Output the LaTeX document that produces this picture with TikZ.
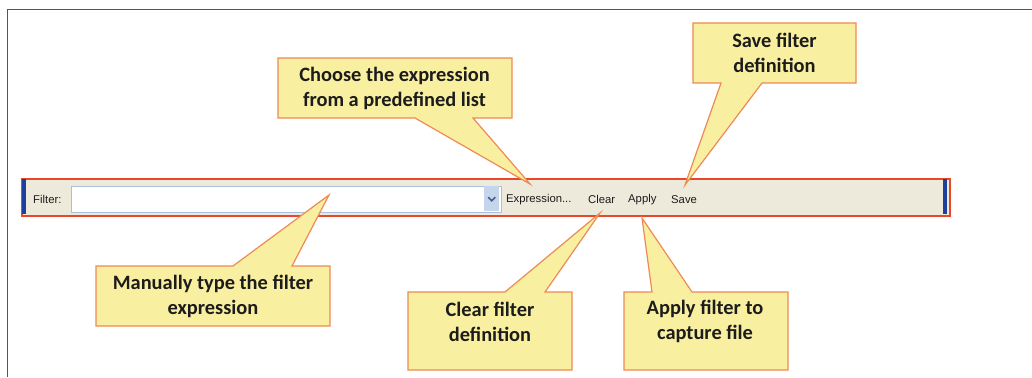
\documentclass[tikz,border=0pt]{standalone}
\usepackage{fontspec}
\setmainfont{Carlito}
\newfontfamily\uifont{Liberation Sans}
\definecolor{calloutfill}{HTML}{F9EFA0}
\definecolor{calloutedge}{HTML}{EE8A55}
\definecolor{barfill}{HTML}{EEEADB}
\definecolor{barred}{HTML}{E8472A}
\definecolor{barblue}{HTML}{1F3F9C}
\definecolor{fieldedge}{HTML}{A9BFDD}
\definecolor{comboblue}{HTML}{C5D5EC}
\definecolor{arrowblue}{HTML}{4A5F85}
\definecolor{framegray}{HTML}{555555}
\definecolor{inktext}{HTML}{1C1C1C}
\tikzset{
  calloutshape/.style={draw=calloutedge,fill=calloutfill,line width=1.2pt,line join=miter},
  callouttext/.style={align=center,font=\fontsize{20.4}{25}\selectfont\bfseries,text=inktext,inner sep=0pt},
  uilabel/.style={font=\uifont\fontsize{11.3}{12}\selectfont,text=inktext,inner sep=0pt,anchor=west},
  framerule/.style={draw=framegray,line width=1pt}
}
\begin{document}
\begin{tikzpicture}[x=1pt,y=-1pt]
\useasboundingbox (0,0) rectangle (1032,377);
\fill[white] (0,0) rectangle (1032,377);
% page frame
\coordinate (frameTL) at (7.5,9.5);
\coordinate (frameTR) at (1032,9.5);
\coordinate (frameBL) at (7.5,377);
\draw[framerule] (frameTR) -- (frameTL) -- (frameBL);
% toolbar
\node[draw=barred,fill=barfill,line width=2pt,minimum width=928pt,minimum height=37pt,inner sep=0pt,anchor=north west] (bar) at (20.5,177.5) {};
\fill[barblue] (21.5,178.5) rectangle (25.5,213.5);
\fill[barblue] (943,178.5) rectangle (947,213.5);
\node[draw=fieldedge,fill=white,line width=1pt,minimum width=430pt,minimum height=26pt,inner sep=0pt,anchor=north west] (field) at (70.5,185.5) {};
\node[fill=comboblue,minimum width=15pt,minimum height=25pt,inner sep=0pt,anchor=north west] (combo) at (484,186) {};
\draw[arrowblue,line width=1.6pt] ([xshift=-3.5pt,yshift=1.5pt]combo.center) -- ([yshift=-2pt]combo.center) -- ([xshift=3.5pt,yshift=1.5pt]combo.center);
\node[uilabel] (lfilter) at (33,199.5) {Filter:};
\node[uilabel] (lexpr) at (506,199.5) {Expression...};
\node[uilabel] (lclear) at (588,199.5) {Clear};
\node[uilabel] (lapply) at (628,199.5) {Apply};
\node[uilabel] (lsave) at (671,199.5) {Save};
% callouts
\draw[calloutshape] (278,58) -- (512,58) -- (512,118) -- (473,118) -- (530,184) -- (415,118) -- (278,118) -- cycle;
\node[callouttext] (choose) at (394.5,88.5) {Choose the expression\\from a predefined list};
\draw[calloutshape] (693,23) -- (856,23) -- (856,83) -- (762,83) -- (685,185) -- (721,83) -- (693,83) -- cycle;
\node[callouttext] (save) at (774.5,52.5) {Save filter\\definition};
\draw[calloutshape] (96,266) -- (233,266) -- (329,195) -- (292,266) -- (330,266) -- (330,326) -- (96,326) -- cycle;
\node[callouttext] (manual) at (213,296.5) {Manually type the filter\\expression};
\draw[calloutshape] (408,292) -- (505,292) -- (600,213) -- (545,292) -- (572,292) -- (572,370) -- (408,370) -- cycle;
\node[callouttext] (clear) at (490,321.5) {Clear filter\\definition};
\draw[calloutshape] (624,292) -- (652,292) -- (642,218) -- (692,292) -- (788,292) -- (788,370) -- (624,370) -- cycle;
\node[callouttext] (apply) at (705,321.5) {Apply filter to\\capture file};
\end{tikzpicture}
\end{document}
